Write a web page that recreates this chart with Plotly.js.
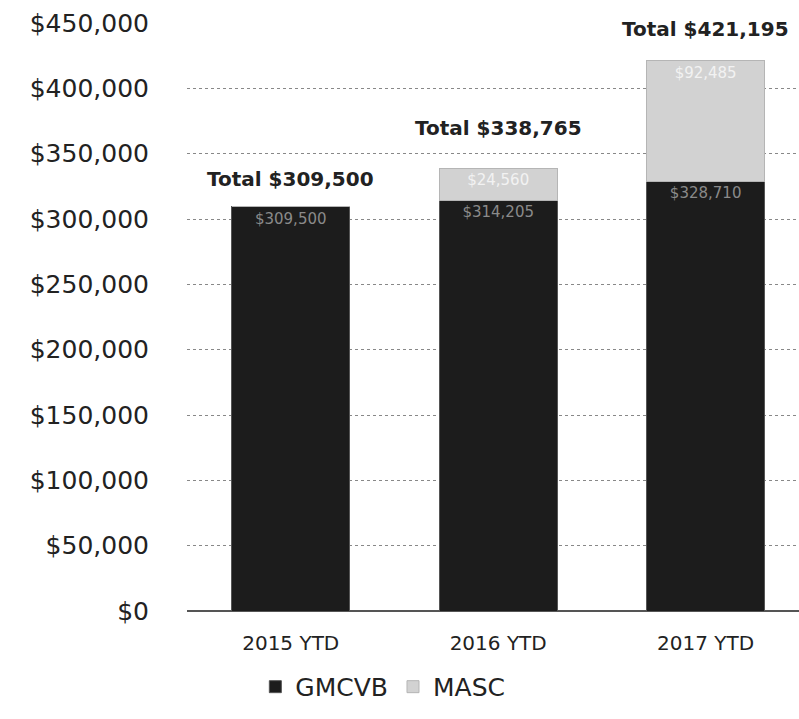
<!DOCTYPE html>
<html>
<head>
<meta charset="utf-8">
<script src="https://cdn.plot.ly/plotly-3.0.1.min.js"></script>
<style>html,body{margin:0;padding:0;background:#fff;}#chart{width:799px;height:719px;}</style>
</head>
<body>
<div id="chart"></div>
<script>
const categories = ["2015 YTD", "2016 YTD", "2017 YTD"];
const gmcvb = [309500, 314205, 328710];
const masc = [0, 24560, 92485];
const totals = [309500, 338765, 421195];
const gmcvbLabels = ["$309,500", "$314,205", "$328,710"];
const mascLabels = ["", "$24,560", "$92,485"];
const yTicks = [0, 50000, 100000, 150000, 200000, 250000, 300000, 350000, 400000, 450000];
const yTickText = ["$0", "$50,000", "$100,000", "$150,000", "$200,000", "$250,000", "$300,000", "$350,000", "$400,000", "$450,000"];

const font = "'DejaVu Sans', 'Noto Sans', sans-serif";

const traces = [
  {
    type: "bar", name: "GMCVB", x: categories, y: gmcvb,
    text: gmcvbLabels, textposition: "inside", insidetextanchor: "end",
    textfont: {color: "#8a8a8a", size: 15, family: font},
    marker: {color: "#1c1c1c", line: {color: "#555", width: 1}},
    hoverinfo: "none"
  },
  {
    type: "bar", name: "MASC", x: categories, y: masc,
    text: mascLabels, textposition: "inside", insidetextanchor: "end",
    textfont: {color: "#f2f2f2", size: 15, family: font},
    marker: {color: "#d2d2d2", line: {color: "#b5b5b5", width: 1}},
    hoverinfo: "none"
  }
];

const annotations = categories.map((c, i) => ({
  x: c, y: totals[i], xref: "x", yref: "y",
  text: "<b>Total $" + totals[i].toLocaleString("en-US") + "</b>",
  showarrow: false, yshift: [28, 40, 32][i],
  font: {family: font, size: 20, color: "#222"}
}));

const layout = {
  width: 799, height: 719,
  margin: {l: 187, r: 0, t: 23, b: 108},
  paper_bgcolor: "#fff", plot_bgcolor: "#fff",
  barmode: "stack", bargap: 0.43,
  showlegend: true,
  legend: {orientation: "h", x: 0.32, xref: "paper", xanchor: "center", y: -0.09, yanchor: "top",
           font: {family: font, size: 25, color: "#222"}, itemwidth: 30, traceorder: "normal"},
  xaxis: {
    range: [-0.5, 2.45], type: "category", showgrid: false, zeroline: false,
    showline: false, ticks: "", ticklabelstandoff: 18,
    tickfont: {family: font, size: 20, color: "#222"}
  },
  yaxis: {
    range: [0, 450000], tickvals: yTicks, ticktext: yTickText,
    showgrid: true, gridcolor: "#888", griddash: "dot", gridwidth: 1,
    zeroline: true, zerolinecolor: "#555", zerolinewidth: 1.5,
    ticks: "", ticklabelstandoff: 37,
    tickfont: {family: font, size: 25, color: "#222"}
  },
  annotations: annotations
};

Plotly.newPlot("chart", traces, layout, {displayModeBar: false, staticPlot: true});
</script>
</body>
</html>
